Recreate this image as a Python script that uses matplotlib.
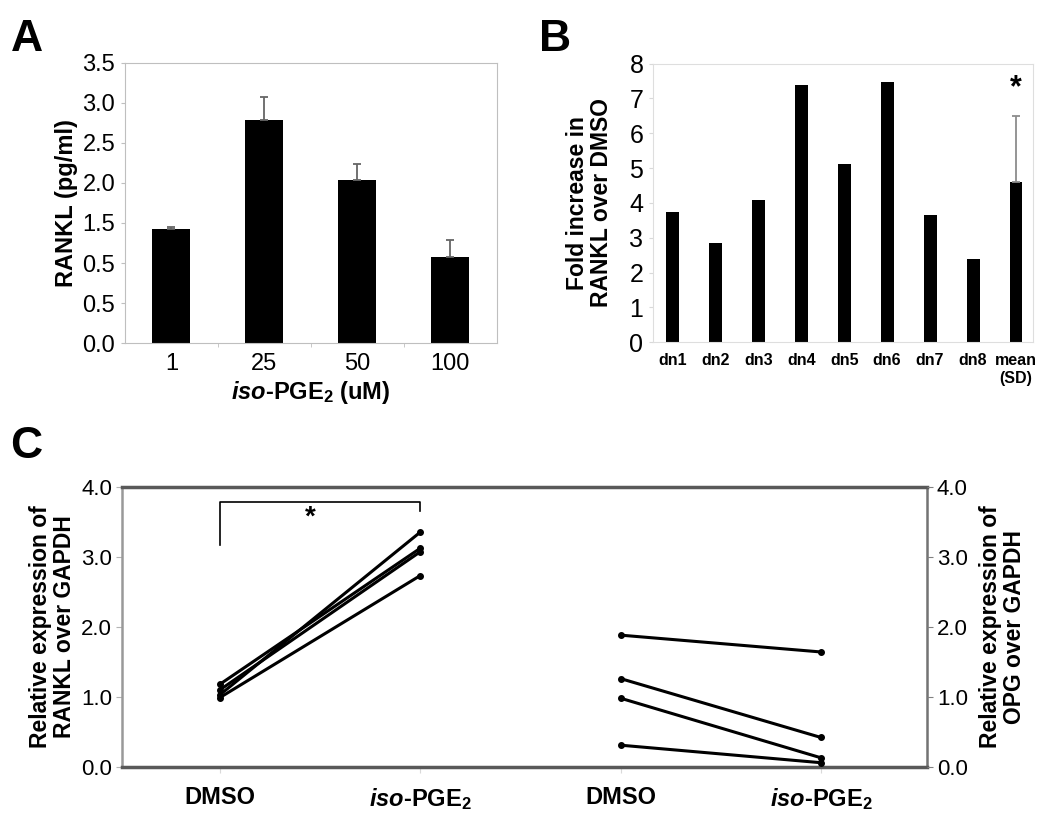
import matplotlib
matplotlib.use("Agg")
import matplotlib.pyplot as plt
import numpy as np

plt.rcParams['font.family'] = ['Liberation Sans', 'DejaVu Sans']
plt.rcParams['mathtext.fontset'] = 'custom'
plt.rcParams['mathtext.rm'] = 'Liberation Sans:bold'
plt.rcParams['mathtext.it'] = 'Liberation Sans:bold:italic'
plt.rcParams['mathtext.bf'] = 'Liberation Sans:bold'

# panel A data
a_doses = ['1', '25', '50', '100']
a_rankl = [1.42, 2.78, 2.04, 1.07]
a_err = [0.03, 0.29, 0.19, 0.22]
a_yticks = [0.0, 0.5, 1.0, 1.5, 2.0, 2.5, 3.0, 3.5]
a_yticklabels = ['0.0', '0.5', '0.5', '1.5', '2.0', '2.5', '3.0', '3.5']

# panel B data
b_donors = ['dn1', 'dn2', 'dn3', 'dn4', 'dn5', 'dn6', 'dn7', 'dn8', 'mean\n(SD)']
b_fold = [3.73, 2.85, 4.09, 7.38, 5.12, 7.46, 3.64, 2.40, 4.59]
b_sd = 1.91

# panel C data
c_groups = ['DMSO', '$iso$-PGE$_2$', 'DMSO', '$iso$-PGE$_2$']
rankl_dmso = [1.18, 1.10, 1.03, 0.99]
rankl_iso = [3.12, 3.07, 3.35, 2.73]
opg_dmso = [1.88, 1.26, 0.98, 0.31]
opg_iso = [1.64, 0.42, 0.13, 0.06]

fig = plt.figure(figsize=(10.5, 8.15), dpi=100)

# ---- A ----
axA = fig.add_axes([0.119, 0.579, 0.354, 0.344])
xa = np.arange(len(a_doses))
axA.bar(xa, a_rankl, width=0.41, color='black')
axA.errorbar(xa, a_rankl, yerr=[np.zeros(len(a_err)), a_err], fmt='none',
             ecolor='0.4', elinewidth=1.3, capsize=3, capthick=1.3)
axA.set_xlim(-0.5, 3.5)
axA.set_ylim(0, 3.5)
axA.set_yticks(a_yticks)
axA.set_yticklabels(a_yticklabels, fontsize=17)
axA.set_xticks(xa)
axA.set_xticklabels(a_doses, fontsize=17)
axA.set_xticks([0.5, 1.5, 2.5], minor=True)
axA.tick_params(axis='x', which='major', length=0, pad=7)
axA.tick_params(axis='x', which='minor', length=3, color='0.75')
axA.tick_params(axis='y', length=3, color='0.75', pad=4)
for s in axA.spines.values():
    s.set_color('0.75')
axA.set_ylabel('RANKL (pg/ml)', fontsize=17, fontweight='bold', labelpad=3)
axA.set_xlabel('$iso$-PGE$_2$ (uM)', fontsize=17, fontweight='bold', labelpad=3)

# ---- B ----
axB = fig.add_axes([0.622, 0.580, 0.362, 0.342])
xb = np.arange(len(b_donors))
axB.bar(xb, b_fold, width=0.3, color='black')
axB.errorbar([xb[-1]], [b_fold[-1]], yerr=[[0], [b_sd]], fmt='none',
             ecolor='0.55', elinewidth=1.3, capsize=3, capthick=1.3)
axB.text(xb[-1], 7.3, '*', ha='center', va='center', fontsize=22, fontweight='bold')
axB.set_xlim(-0.45, 8.4)
axB.set_ylim(0, 8)
axB.set_yticks(range(0, 9))
axB.set_yticklabels([str(v) for v in range(0, 9)], fontsize=18)
axB.set_xticks(xb)
axB.set_xticklabels(b_donors, fontsize=11.5, fontweight='bold')
axB.tick_params(axis='x', length=0, pad=8)
axB.tick_params(axis='y', length=3, color='0.85', pad=4)
for s in axB.spines.values():
    s.set_color('0.87')
axB.set_ylabel('Fold increase in\nRANKL over DMSO', fontsize=16.5, fontweight='bold',
               labelpad=12, linespacing=1.05)

# ---- C ----
axC = fig.add_axes([0.116, 0.059, 0.767, 0.344])
xc = np.arange(1, len(c_groups) + 1)
for d, i in zip(rankl_dmso, rankl_iso):
    axC.plot([xc[0], xc[1]], [d, i], color='black', lw=2.2, marker='o', ms=4)
axC.plot([xc[0], xc[0], xc[1], xc[1]], [3.16, 3.78, 3.78, 3.65], color='black', lw=1.2)
axC.text((xc[0] + xc[1]) / 2 - 0.05, 3.55, '*', ha='center', va='center',
         fontsize=20, fontweight='bold')
axC.set_xlim(0.51, 4.53)
axC.set_ylim(0, 4)
axC.set_yticks([0, 1, 2, 3, 4])
axC.set_yticklabels(['0.0', '1.0', '2.0', '3.0', '4.0'], fontsize=16)
axC.set_xticks(xc)
axC.set_xticklabels(c_groups, fontsize=17, fontweight='bold')
axC.tick_params(axis='x', length=4, color='0.85', pad=10)
axC.tick_params(axis='y', length=4, color='0.7', pad=3)
axC.spines['top'].set_color('0.35')
axC.spines['top'].set_linewidth(2.5)
axC.spines['bottom'].set_color('0.35')
axC.spines['bottom'].set_linewidth(2.5)
axC.spines['left'].set_color('0.6')
axC.spines['left'].set_linewidth(1.8)
axC.spines['right'].set_color('0.45')
axC.spines['right'].set_linewidth(1.8)
axC.set_ylabel('Relative expression of\nRANKL over GAPDH', fontsize=16.5,
               fontweight='bold', labelpad=4, linespacing=1.05)

axC2 = axC.twinx()
for d, i in zip(opg_dmso, opg_iso):
    axC2.plot([xc[2], xc[3]], [d, i], color='black', lw=2.2, marker='o', ms=4)
axC2.set_ylim(0, 4)
axC2.set_yticks([0, 1, 2, 3, 4])
axC2.set_yticklabels(['0.0', '1.0', '2.0', '3.0', '4.0'], fontsize=16)
axC2.tick_params(axis='y', length=4, color='0.5', pad=3)
for s in axC2.spines.values():
    s.set_visible(False)
axC2.set_ylabel('Relative expression of\nOPG over GAPDH', fontsize=16.5,
                fontweight='bold', labelpad=8, linespacing=1.05)

# panel letters
fig.text(0.010, 0.952, 'A', fontsize=32, fontweight='bold', va='center')
fig.text(0.513, 0.952, 'B', fontsize=32, fontweight='bold', va='center')
fig.text(0.010, 0.452, 'C', fontsize=32, fontweight='bold', va='center')

fig.savefig('out.png', dpi=100)
